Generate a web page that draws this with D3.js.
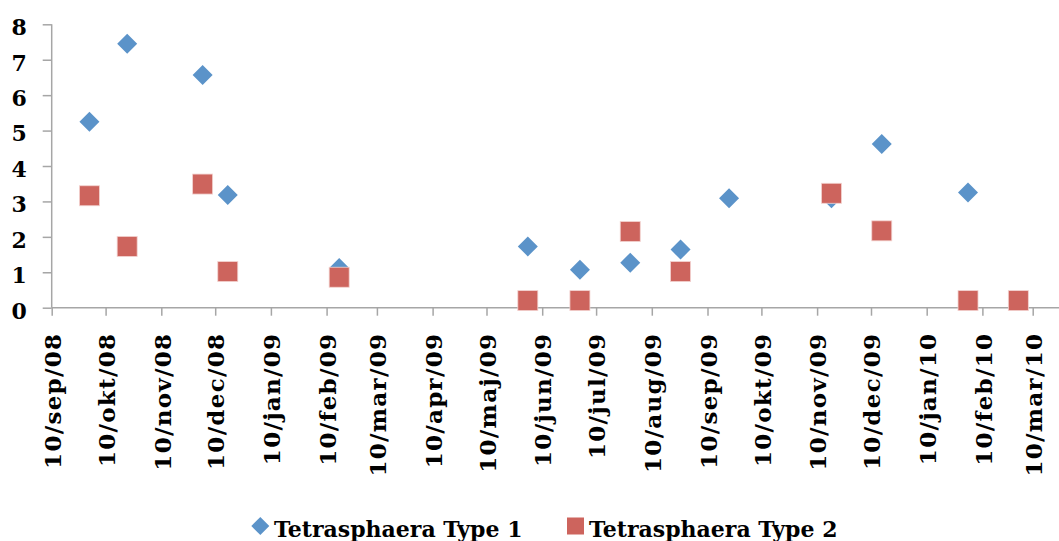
<!DOCTYPE html>
<html>
<head>
<meta charset="utf-8">
<script src="https://cdn.jsdelivr.net/npm/d3@7"></script>
<style>
  body { margin: 0; background: #fff; }
  text { font-family: "DejaVu Serif", serif; font-weight: bold; fill: #000; }
</style>
</head>
<body>
<script>
// data
const type1Dates = ["2008-10-01", "2008-10-22", "2008-12-03", "2008-12-17", "2009-02-17",
                    "2009-06-02", "2009-07-01", "2009-07-29", "2009-08-26", "2009-09-22",
                    "2009-11-18", "2009-12-16", "2010-02-02"];
const type1Values = [5.25, 7.45, 6.57, 3.18, 1.12, 1.73, 1.07, 1.27, 1.64, 3.09, 3.09, 4.62, 3.25];

const type2Dates = ["2008-10-01", "2008-10-22", "2008-12-03", "2008-12-17", "2009-02-17",
                    "2009-06-02", "2009-07-01", "2009-07-29", "2009-08-26",
                    "2009-11-18", "2009-12-16", "2010-02-02", "2010-03-02"];
const type2Values = [3.16, 1.73, 3.49, 1.02, 0.86, 0.2, 0.2, 2.15, 1.02, 3.23, 2.17, 0.2, 0.2];

const tickDates = ["2008-09-10", "2008-10-10", "2008-11-10", "2008-12-10", "2009-01-10",
                   "2009-02-10", "2009-03-10", "2009-04-10", "2009-05-10", "2009-06-10",
                   "2009-07-10", "2009-08-10", "2009-09-10", "2009-10-10", "2009-11-10",
                   "2009-12-10", "2010-01-10", "2010-02-10", "2010-03-10"];
const monthNames = ["jan", "feb", "mar", "apr", "maj", "jun", "jul", "aug", "sep", "okt", "nov", "dec"];
const yTicks = [0, 1, 2, 3, 4, 5, 6, 7, 8];
const seriesNames = ["Tetrasphaera Type 1", "Tetrasphaera Type 2"];

const width = 1059;
const height = 541;
const parse = d3.timeParse("%Y-%m-%d");

const svg = d3.select("body").append("svg")
    .attr("width", width)
    .attr("height", height);

const x = d3.scaleTime()
    .domain([parse("2008-09-10"), parse("2010-03-10")])
    .range([51.7, 1032.7]);

const y = d3.scaleLinear()
    .domain([0, 8])
    .range([307.7, 24.3]);

const axisColor = "#a6a6a6";

// y axis
const yAxis = svg.append("g")
    .attr("transform", "translate(51.7,0)")
    .call(d3.axisLeft(y).tickValues(yTicks).tickSize(9).tickPadding(16).tickFormat(d3.format("d")));
yAxis.select(".domain").attr("stroke", axisColor).attr("stroke-width", 1.5).attr("d", `M0,${y(8)}V${y(0)}`);
yAxis.selectAll(".tick line").attr("stroke", axisColor).attr("stroke-width", 1.5);
yAxis.selectAll(".tick text")
    .attr("font-size", 22)
    .attr("dy", "0.47em")
    .style("font-family", "'DejaVu Serif', serif")
    .style("font-weight", "bold")
    .attr("fill", "#000");

// x axis
const fmt = d => `${d.getDate()}/${monthNames[d.getMonth()]}/${d3.timeFormat("%y")(d)}`;
const xAxis = svg.append("g")
    .attr("transform", `translate(0,${y(0)})`)
    .call(d3.axisBottom(x).tickValues(tickDates.map(parse)).tickSize(8).tickFormat(fmt));
xAxis.select(".domain").attr("stroke", axisColor).attr("stroke-width", 1.5).attr("d", `M${x.range()[0]},0H${width}`);
xAxis.selectAll(".tick line").attr("stroke", axisColor).attr("stroke-width", 1.5);
xAxis.selectAll(".tick text")
    .attr("font-size", 23)
    .attr("letter-spacing", 1.3)
    .attr("text-anchor", "end")
    .attr("transform", "translate(0,25) rotate(-90)")
    .attr("x", 0)
    .attr("y", 0)
    .attr("dy", "0.38em")
    .style("font-family", "'DejaVu Serif', serif")
    .style("font-weight", "bold")
    .attr("fill", "#000");

const blue = "#5b93c9";
const red = "#cd645d";

// type 1 diamonds
svg.append("g")
    .selectAll("path")
    .data(type1Dates.map((d, i) => ({ date: parse(d), value: type1Values[i] })))
    .enter().append("path")
    .attr("d", "M0,-10L10,0L0,10L-10,0Z")
    .attr("transform", d => `translate(${x(d.date)},${y(d.value)})`)
    .attr("fill", blue);

// type 2 squares
svg.append("g")
    .selectAll("rect")
    .data(type2Dates.map((d, i) => ({ date: parse(d), value: type2Values[i] })))
    .enter().append("rect")
    .attr("x", d => x(d.date) - 10)
    .attr("y", d => y(d.value) - 10)
    .attr("width", 20)
    .attr("height", 20)
    .attr("fill", red)
    .attr("stroke", "#f3d3d0")
    .attr("stroke-width", 0.8);

// legend
const legend = svg.append("g");
legend.append("path")
    .attr("d", "M0,-9L9,0L0,9L-9,0Z")
    .attr("transform", "translate(260.3,526)")
    .attr("fill", blue);
legend.append("text")
    .attr("x", 274)
    .attr("y", 536.5)
    .attr("font-size", 22)
    .text(seriesNames[0]);
legend.append("rect")
    .attr("x", 567)
    .attr("y", 517.5)
    .attr("width", 17)
    .attr("height", 17)
    .attr("fill", red);
legend.append("text")
    .attr("x", 589)
    .attr("y", 536.5)
    .attr("font-size", 22)
    .text(seriesNames[1]);
</script>
</body>
</html>
